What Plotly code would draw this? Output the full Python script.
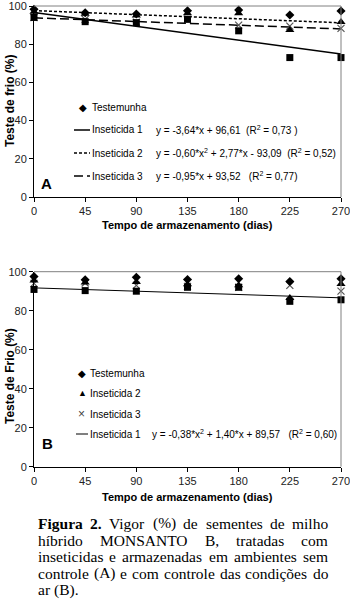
import plotly.graph_objects as go

# ---------------- data ----------------
days = [0, 45, 90, 135, 180, 225, 270]
tick_days = [0, 45, 90, 135, 180, 225, 270]
tick_pct = [0, 20, 40, 60, 80, 100]

# Panel A (sem controle)
A_testemunha = [98.3, 96.5, 95.8, 97.5, 97.9, 95.3, 97.4]
A_inseticida1 = [94.0, 91.8, 91.3, 93.0, 87.0, 73.0, 73.0]
A_inseticida2 = [97.0, 96.0, 95.0, 96.2, 96.2, 87.4, 91.6]
A_inseticida3 = [94.0, 93.0, 91.5, 93.0, 90.0, 89.5, 88.3]
trend_days = [0, 270]
A_trend1 = [96.6, 74.8]
A_trend2 = [97.6, 91.2]
A_trend3 = [93.8, 88.0]

# Panel B (com controle)
B_testemunha = [97.5, 95.9, 97.1, 96.0, 96.4, 95.0, 96.4]
B_inseticida2 = [95.5, 94.5, 94.7, 93.5, 93.0, 86.5, 93.7]
B_inseticida3 = [94.0, 94.2, 93.0, 92.5, 92.0, 93.0, 90.0]
B_inseticida1 = [90.9, 90.3, 90.0, 92.0, 92.0, 84.8, 85.6]
B_trend1 = [91.7, 86.6]

eqA1 = "y = -3,64*x + 96,61  (R<sup>2</sup> = 0,73 )"
eqA2 = "y = -0,60*x<sup>2</sup> + 2,77*x - 93,09  (R<sup>2</sup> = 0,52)"
eqA3 = "y = -0,95*x + 93,52   (R<sup>2</sup> = 0,77)"
eqB1 = "y = -0,38*x<sup>2</sup> + 1,40*x + 89,57   (R<sup>2</sup> = 0,60)"

caption_lines = [
    [("Figura", True), ("2.", True), ("Vigor", False), ("(%)", False), ("de", False),
     ("sementes", False), ("de", False), ("milho", False)],
    [("híbrido", False), ("MONSANTO", False), ("B,", False), ("tratadas", False), ("com", False)],
    [("inseticidas", False), ("e", False), ("armazenadas", False), ("em", False),
     ("ambientes", False), ("sem", False)],
    [("controle", False), ("(A)", False), ("e", False), ("com", False), ("controle", False),
     ("das", False), ("condições", False), ("do", False)],
    [("ar", False), ("(B).", False)],
]

# ---------------- layout helpers ----------------
W, H = 350, 605
def px(x): return x / W
def py(y): return 1 - y / H

SANS = "Liberation Sans, Arial, sans-serif"
SERIF = "Liberation Serif, Times New Roman, serif"

fig = go.Figure()

# ---- Panel A traces
fig.add_trace(go.Scatter(x=trend_days, y=A_trend1, mode="lines", line=dict(color="black", width=1.5),
                         xaxis="x", yaxis="y", showlegend=False))
fig.add_trace(go.Scatter(x=trend_days, y=A_trend2, mode="lines", line=dict(color="black", width=1.5, dash="3px,2px"),
                         xaxis="x", yaxis="y", showlegend=False))
fig.add_trace(go.Scatter(x=trend_days, y=A_trend3, mode="lines", line=dict(color="black", width=1.5, dash="9px,4px"),
                         xaxis="x", yaxis="y", showlegend=False))
fig.add_trace(go.Scatter(x=days, y=A_inseticida3, mode="markers", cliponaxis=False,
                         marker=dict(symbol="x-thin-open", size=7, color="#555", line=dict(color="#555", width=1.2)),
                         xaxis="x", yaxis="y", showlegend=False))
fig.add_trace(go.Scatter(x=days, y=A_inseticida1, mode="markers", cliponaxis=False,
                         marker=dict(symbol="square", size=7, color="black"),
                         xaxis="x", yaxis="y", showlegend=False))
fig.add_trace(go.Scatter(x=days, y=A_inseticida2, mode="markers", cliponaxis=False,
                         marker=dict(symbol="triangle-up", size=8, color="black"),
                         xaxis="x", yaxis="y", showlegend=False))
fig.add_trace(go.Scatter(x=days, y=A_testemunha, mode="markers", cliponaxis=False,
                         marker=dict(symbol="diamond", size=7, color="black"),
                         xaxis="x", yaxis="y", showlegend=False))

# ---- Panel B traces
fig.add_trace(go.Scatter(x=trend_days, y=B_trend1, mode="lines", line=dict(color="black", width=1),
                         xaxis="x2", yaxis="y2", showlegend=False))
fig.add_trace(go.Scatter(x=days, y=B_inseticida3, mode="markers", cliponaxis=False,
                         marker=dict(symbol="x-thin-open", size=7, color="#555", line=dict(color="#555", width=1.2)),
                         xaxis="x2", yaxis="y2", showlegend=False))
fig.add_trace(go.Scatter(x=days, y=B_inseticida1, mode="markers", cliponaxis=False,
                         marker=dict(symbol="square", size=7, color="black"),
                         xaxis="x2", yaxis="y2", showlegend=False))
fig.add_trace(go.Scatter(x=days, y=B_inseticida2, mode="markers", cliponaxis=False,
                         marker=dict(symbol="triangle-up", size=8, color="black"),
                         xaxis="x2", yaxis="y2", showlegend=False))
fig.add_trace(go.Scatter(x=days, y=B_testemunha, mode="markers", cliponaxis=False,
                         marker=dict(symbol="diamond", size=7, color="black"),
                         xaxis="x2", yaxis="y2", showlegend=False))

xdom = [px(34), px(341)]
axis_common = dict(showline=True, linecolor="black", linewidth=1, ticks="outside", ticklen=4,
                   tickcolor="black", showgrid=False, zeroline=False, automargin=False,
                   ticklabeloverflow="allow",
                   tickfont=dict(family=SANS, size=11, color="#222"))
fig.update_layout(
    width=W, height=H, margin=dict(l=0, r=0, t=0, b=0, pad=0, autoexpand=False),
    paper_bgcolor="white", plot_bgcolor="white", showlegend=False,
    xaxis=dict(domain=xdom, range=[0, 270], tickvals=tick_days, anchor="y", **axis_common),
    yaxis=dict(domain=[py(197), py(6)], range=[0, 100], tickvals=tick_pct, anchor="x", **axis_common),
    xaxis2=dict(domain=xdom, range=[0, 270], tickvals=tick_days, anchor="y2", **axis_common),
    yaxis2=dict(domain=[py(466.7), py(271.7)], range=[0, 100], tickvals=tick_pct, anchor="x2", **axis_common),
)

shapes = []
annotations = []
# plot box borders (top & right)
for (yt, yb) in [(6, 197), (271.7, 466.7)]:
    shapes.append(dict(type="line", xref="paper", yref="paper", x0=px(34), x1=px(341), y0=py(yt), y1=py(yt),
                       line=dict(color="#808080", width=1)))
    shapes.append(dict(type="line", xref="paper", yref="paper", x0=px(341), x1=px(341), y0=py(yt), y1=py(yb),
                       line=dict(color="#808080", width=1)))

def txt(x, y, s, size=10, bold=False, anchor="left", family=SANS, angle=0, color="black"):
    annotations.append(dict(xref="paper", yref="paper", x=px(x), y=py(y), text=(f"<b>{s}</b>" if bold else s),
                            showarrow=False, xanchor=anchor, yanchor="middle", textangle=angle,
                            font=dict(family=family, size=size, color=color)))

def legline(x0, x1, y, dash="solid", width=1.5):
    shapes.append(dict(type="line", xref="paper", yref="paper", x0=px(x0), x1=px(x1), y0=py(y), y1=py(y),
                       line=dict(color="black", width=width, dash=dash)))

# Panel A legend
txt(77, 107, "◆", size=10, anchor="left")
txt(90, 107, "Testemunha", size=10)
legline(74, 90, 130)
txt(90, 130, "Inseticida 1", size=10)
txt(154, 130, eqA1, size=10)
legline(74, 90, 153, dash="3px,2px")
txt(90, 153, "Inseticida 2", size=10)
txt(154, 153, eqA2, size=10)
legline(74, 90, 176, dash="9px,4px")
txt(90, 176, "Inseticida 3", size=10)
txt(154, 176, eqA3, size=10)
txt(39, 184, "A", size=15, bold=True)

# Panel B legend
txt(76, 373, "◆", size=10)
txt(88, 373, "Testemunha", size=10)
txt(76, 393, "▲", size=9)
txt(88, 393, "Inseticida 2", size=10)
txt(76, 414, "×", size=12, color="#444")
txt(88, 414, "Inseticida 3", size=10)
legline(76, 88, 434, width=1)
txt(88, 434, "Inseticida 1", size=10)
txt(150, 434, eqB1, size=10)
txt(40, 443, "B", size=15, bold=True)

# axis titles
txt(187, 225, "Tempo de armazenamento (dias)", size=11, bold=True, anchor="center")
txt(187, 497, "Tempo de armazenamento (dias)", size=11, bold=True, anchor="center")
txt(10, 101, "Teste de frio (%)", size=12, bold=True, anchor="center", angle=-90)
txt(10, 376, "Teste de Frio (%)", size=12, bold=True, anchor="center", angle=-90)

# caption (justified, Times metrics)
TR = {' ': 250, '(': 333, ')': 333, '%': 833, ',': 250, '.': 250, '2': 500, 'A': 722, 'B': 667,
      'M': 889, 'N': 722, 'O': 722, 'S': 556, 'T': 611, 'V': 722, 'F': 556,
      'a': 444, 'b': 500, 'c': 444, 'd': 500, 'e': 444, 'g': 500, 'h': 500, 'i': 278, 'í': 278,
      'l': 278, 'm': 778, 'n': 500, 'o': 500, 'õ': 500, 'ç': 444, 'r': 333, 's': 389, 't': 278, 'u': 500}
TB = {'F': 611, 'i': 278, 'g': 500, 'u': 556, 'r': 444, 'a': 500, '2': 500, '.': 250}
FS = 15.5
def wlen(word, bold):
    tab = TB if bold else TR
    return sum(tab.get(c, 500) for c in word) * FS / 1000.0

cap_left, cap_right = 36, 326
cap_y = [523, 540, 556.5, 573, 589.5]
for i, line in enumerate(caption_lines):
    widths = [wlen(w, b) for w, b in line]
    if i < len(caption_lines) - 1:
        gap = (cap_right - cap_left - sum(widths)) / (len(line) - 1)
    else:
        gap = 0.25 * FS
    x = cap_left
    for (w, b), wd in zip(line, widths):
        txt(x, cap_y[i], w, size=FS, bold=b, family=SERIF)
        x += wd + gap

fig.update_layout(shapes=shapes, annotations=annotations)
fig.write_html("out.html", config={"displayModeBar": False},
               post_script="document.body.style.margin='0';document.body.style.padding='0';document.documentElement.style.overflow='hidden';")
